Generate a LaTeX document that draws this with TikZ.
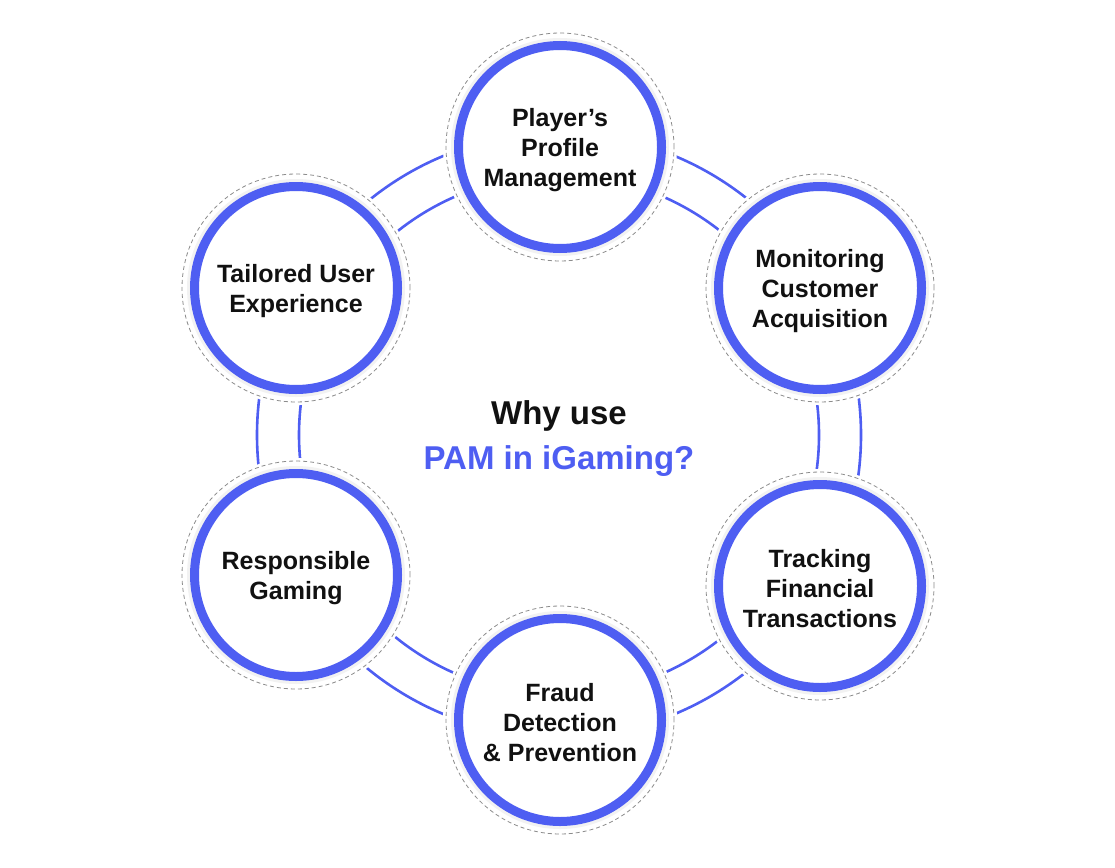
\documentclass[tikz,border=0pt]{standalone}
\usepackage{fontspec}
\setmainfont{Liberation Sans}
\definecolor{pamblue}{HTML}{4E5EF2}
\definecolor{pamink}{HTML}{111111}
\begin{document}
\begin{tikzpicture}
  [x=1pt, y=-1pt,
   ring/.style={draw=pamblue, line width=2.6pt},
   halo/.style={draw=black!5, line width=3pt},
   dashring/.style={draw=black!45, line width=0.8pt, dash pattern=on 4pt off 3pt},
   topic/.style={circle, draw=pamblue, line width=9pt, fill=white,
     minimum size=203pt, inner sep=0pt},
   topictext/.style={align=center, text=pamink, inner sep=0pt,
     font=\bfseries\fontsize{25}{30}\selectfont}]
  \useasboundingbox (0,0) rectangle (1115,867);
  \coordinate (hub) at (559,435);
  % double ring behind the topics
  \draw[ring] (hub) circle (260pt) (hub) circle (302pt);
  \foreach \name/\px/\py/\txt in
    {ppm/560/147/{Player’s\\Profile\\Management},
     mca/820/288/{Monitoring\\Customer\\Acquisition},
     tft/820/586/{Tracking\\Financial\\Transactions},
     fdp/560/720/{Fraud\\Detection\\\& Prevention},
     rg/296/575/{Responsible\\Gaming},
     tue/296/288/{Tailored User\\Experience}}
  {
    \fill[white] (\px,\py) circle (117pt);
    \draw[dashring] (\px,\py) circle (114pt);
    \draw[halo] (\px,\py) circle (107.5pt);
    \node[topic] (\name) at (\px,\py) {};
    \node[topictext] (\name-txt) at ([yshift=-3pt]\name.center) {\txt};
  }
  \node[align=center, font=\bfseries\fontsize{33}{45}\selectfont, text=pamink]
    (why) at ([yshift=-4pt]hub) {Why use\\\textcolor{pamblue}{PAM in iGaming?}};
\end{tikzpicture}
\end{document}
